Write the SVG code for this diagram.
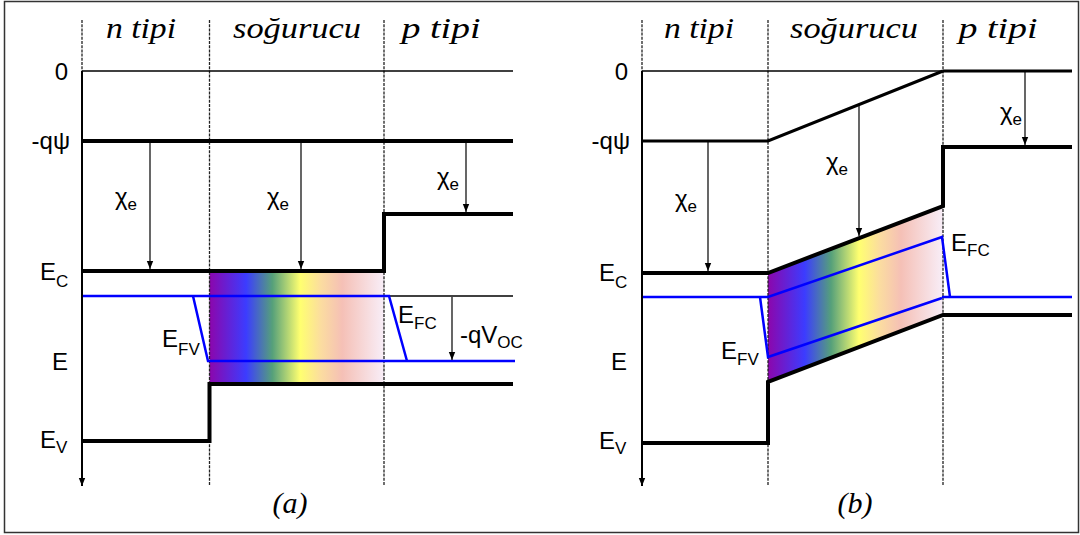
<svg xmlns="http://www.w3.org/2000/svg" width="1080" height="535" viewBox="0 0 1080 535">
<defs>
<linearGradient id="spec" x1="0" y1="0" x2="1" y2="0">
<stop offset="0" stop-color="#8c06ac"/>
<stop offset="0.21" stop-color="#3c3cff"/>
<stop offset="0.36" stop-color="#55a07a"/>
<stop offset="0.52" stop-color="#ffff70"/>
<stop offset="0.64" stop-color="#fbdca0"/>
<stop offset="0.76" stop-color="#f5c0b6"/>
<stop offset="1" stop-color="#f8eef8"/>
</linearGradient>
<marker id="ah" markerWidth="8" markerHeight="8" viewBox="0 0 8 8" refX="8" refY="4" orient="auto" markerUnits="userSpaceOnUse">
<path d="M0,0.8 L8,4 L0,7.2 Z" fill="#000"/>
</marker>
<style>
.frame{fill:#fff;stroke:#333;stroke-width:1.5}
.dash{stroke:#222;stroke-width:1.3;stroke-dasharray:3 1.2;fill:none}
.axis{stroke:#000;stroke-width:2;fill:none}
.thin{stroke:#000;stroke-width:1.3;fill:none}
.band{stroke:#000;stroke-width:4;fill:none;stroke-linejoin:miter}
.mid{stroke:#000;stroke-width:3;fill:none}
.fermi{stroke:#0000ff;stroke-width:2.5;fill:none}
.arr{stroke:#000;stroke-width:1.2;fill:none}
.lab{font-family:"Liberation Sans",Arial,sans-serif;font-size:24px;fill:#000}
.sub{font-size:17px}
.hdr{font-family:"Liberation Serif","Times New Roman",serif;font-style:italic;font-size:30px;fill:#000}
</style>
</defs>
<rect class="frame" x="4.5" y="1.5" width="1074" height="531"/>

<g id="panel-a">
<g id="a-absorber">
<rect x="209.5" y="271" width="174.5" height="113" fill="url(#spec)"/>
</g>
<g id="a-guides">
<line class="dash" x1="82" y1="20" x2="82" y2="71"/>
<line class="dash" x1="209.5" y1="20" x2="209.5" y2="486"/>
<line class="dash" x1="384" y1="20" x2="384" y2="486"/>
</g>
<g id="a-levels">
<path class="thin" d="M82 71 H513"/>
<path class="band" d="M82 141 H513"/>
<path class="band" d="M82 271 H384 V214 H513"/>
<path class="band" d="M82 441 H209.5 V384 H513"/>
<path class="thin" d="M389 296 H513"/>
<path class="fermi" d="M82 296 H389 L407 361"/>
<path class="fermi" d="M193 296 L208 361 H515"/>
</g>
<g id="a-labels">
<text class="hdr" x="141" y="38" text-anchor="middle" textLength="70" lengthAdjust="spacingAndGlyphs">n tipi</text>
<text class="hdr" x="297" y="38" text-anchor="middle" textLength="128" lengthAdjust="spacingAndGlyphs">soğurucu</text>
<text class="hdr" x="441" y="38" text-anchor="middle" textLength="79" lengthAdjust="spacingAndGlyphs">p tipi</text>
<text class="lab" x="68" y="80" text-anchor="end">0</text>
<text class="lab" x="70" y="149" text-anchor="end">-qψ</text>
<text class="lab" x="40" y="280">E<tspan class="sub" dy="7">C</tspan></text>
<text class="lab" x="52" y="370">E</text>
<text class="lab" x="40" y="448">E<tspan class="sub" dy="5">V</tspan></text>
<text class="lab" x="115" y="205">χ<tspan class="sub" dy="5">e</tspan></text>
<text class="lab" x="267" y="205">χ<tspan class="sub" dy="5">e</tspan></text>
<text class="lab" x="437" y="185">χ<tspan class="sub" dy="5">e</tspan></text>
<text class="lab" x="162" y="347">E<tspan class="sub" dy="8">FV</tspan></text>
<text class="lab" x="398" y="323">E<tspan class="sub" dy="6">FC</tspan></text>
<text class="lab" x="460" y="343">-qV<tspan class="sub" dy="5">OC</tspan></text>
<text class="hdr" x="290" y="513" text-anchor="middle">(a)</text>
</g>
</g>

<g id="panel-b">
<g id="b-absorber">
<polygon points="768,273 943,206 943,315 768,382" fill="url(#spec)"/>
</g>
<g id="b-guides">
<line class="dash" x1="642" y1="20" x2="642" y2="71"/>
<line class="dash" x1="768" y1="20" x2="768" y2="486"/>
<line class="dash" x1="943" y1="20" x2="943" y2="486"/>
</g>
<g id="b-levels">
<path class="thin" d="M642 71 H943"/>
<path class="mid" d="M943 71 H1072"/>
<path class="mid" d="M642 141 H768 L943 71"/>
<path class="band" d="M642 273 H768 L943 206 V147 H1072"/>
<path class="band" d="M642 443 H768 V382 L943 315 H1072"/>
<path class="fermi" d="M642 297 H768 L942 237 L950 297"/>
<path class="fermi" d="M942 297 H1072"/>
<path class="fermi" d="M760 297 L768 357 L942 298"/>
</g>
<g id="b-labels">
<text class="hdr" x="699" y="38" text-anchor="middle" textLength="70" lengthAdjust="spacingAndGlyphs">n tipi</text>
<text class="hdr" x="854" y="38" text-anchor="middle" textLength="128" lengthAdjust="spacingAndGlyphs">soğurucu</text>
<text class="hdr" x="998" y="38" text-anchor="middle" textLength="79" lengthAdjust="spacingAndGlyphs">p tipi</text>
<text class="lab" x="628" y="80" text-anchor="end">0</text>
<text class="lab" x="630" y="149" text-anchor="end">-qψ</text>
<text class="lab" x="599" y="281">E<tspan class="sub" dy="7">C</tspan></text>
<text class="lab" x="611" y="370">E</text>
<text class="lab" x="599" y="449">E<tspan class="sub" dy="5">V</tspan></text>
<text class="lab" x="675" y="207">χ<tspan class="sub" dy="5">e</tspan></text>
<text class="lab" x="826" y="170">χ<tspan class="sub" dy="5">e</tspan></text>
<text class="lab" x="1000" y="120">χ<tspan class="sub" dy="5">e</tspan></text>
<text class="lab" x="721" y="359">E<tspan class="sub" dy="6">FV</tspan></text>
<text class="lab" x="951" y="251">E<tspan class="sub" dy="5">FC</tspan></text>
<text class="hdr" x="855" y="513" text-anchor="middle">(b)</text>
</g>
</g>

<g id="connectors">
<line class="axis" x1="82" y1="71" x2="82" y2="486" marker-end="url(#ah)"/>
<line class="axis" x1="642" y1="71" x2="642" y2="486" marker-end="url(#ah)"/>
<line class="arr" x1="150" y1="143" x2="150" y2="269" marker-end="url(#ah)"/>
<line class="arr" x1="301" y1="143" x2="301" y2="269" marker-end="url(#ah)"/>
<line class="arr" x1="466" y1="143" x2="466" y2="212" marker-end="url(#ah)"/>
<line class="arr" x1="452" y1="297" x2="452" y2="360" marker-end="url(#ah)"/>
<line class="arr" x1="708" y1="142" x2="708" y2="271" marker-end="url(#ah)"/>
<line class="arr" x1="859" y1="105" x2="859" y2="236" marker-end="url(#ah)"/>
<line class="arr" x1="1025" y1="72" x2="1025" y2="145" marker-end="url(#ah)"/>
</g>
</svg>
